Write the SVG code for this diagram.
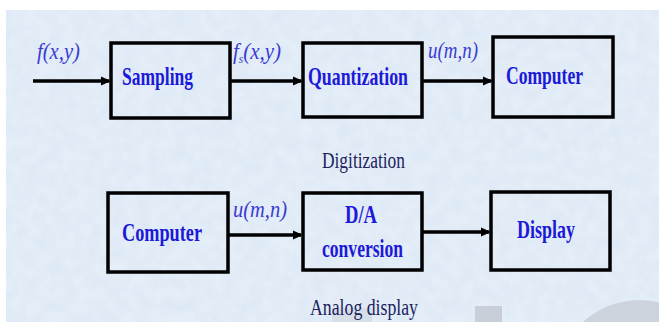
<svg xmlns="http://www.w3.org/2000/svg" width="659" height="322" viewBox="0 0 659 322">
<defs>
<marker id="ah" markerWidth="10" markerHeight="10" refX="8" refY="5" orient="auto" markerUnits="userSpaceOnUse"><path d="M0,0.5 L10,5 L0,9.5 Z" fill="#000"/></marker>
<filter id="tex" x="0" y="0" width="100%" height="100%"><feTurbulence type="fractalNoise" baseFrequency="0.08" numOctaves="2" seed="3"/><feColorMatrix type="matrix" values="0 0 0 0 0.86  0 0 0 0 0.91  0 0 0 0 0.97  0 0 0 -1.2 1.1"/></filter>
</defs>
<style>
.box{fill:none;stroke:#000;stroke-width:3.5}
.lbl{font-family:"Liberation Serif","Times New Roman",serif;font-weight:bold;font-size:25px;fill:#1c1ad8}
.sig{font-family:"Liberation Serif","Times New Roman",serif;font-style:italic;font-size:24px;fill:#3a3ad2}
.cap{font-family:"Liberation Serif","Times New Roman",serif;font-size:23px;fill:#20225e}
.con{stroke:#000;stroke-width:3.5;fill:none;marker-end:url(#ah)}
</style>
<rect x="0" y="0" width="659" height="322" fill="#fff"/>
<rect x="6" y="10" width="653" height="312" fill="#dce8f5"/>
<rect x="6" y="10" width="653" height="312" filter="url(#tex)" opacity="0.6"/>
<rect x="332" y="308" width="40" height="14" fill="#d6dee8"/>
<rect x="475" y="306" width="27" height="16" fill="#c9cfd8"/>
<circle cx="640" cy="385" r="85" fill="#cdd3dc"/>
<g id="connectors">
<line class="con" x1="33" y1="81" x2="109" y2="81"/>
<line class="con" x1="230" y1="81" x2="301" y2="81"/>
<line class="con" x1="422" y1="81" x2="491" y2="81"/>
<line class="con" x1="228" y1="235" x2="301" y2="235"/>
<line class="con" x1="422" y1="232" x2="489" y2="232"/>
<text class="sig" x="37" y="59" textLength="43" lengthAdjust="spacingAndGlyphs">f(x,y)</text>
<text class="sig" x="233" y="59" textLength="48" lengthAdjust="spacingAndGlyphs">f<tspan font-size="13" dy="4">s</tspan><tspan dy="-4">(x,y)</tspan></text>
<text class="sig" x="428" y="58" textLength="50" lengthAdjust="spacingAndGlyphs">u(m,n)</text>
<text class="sig" x="233" y="217" textLength="54" lengthAdjust="spacingAndGlyphs">u(m,n)</text>
</g>
<g id="sampling"><rect class="box" x="111" y="43" width="119" height="75"/><text class="lbl" x="122" y="85" textLength="71" lengthAdjust="spacingAndGlyphs">Sampling</text></g>
<g id="quantization"><rect class="box" x="303" y="43" width="119" height="74"/><text class="lbl" x="308" y="85" textLength="100" lengthAdjust="spacingAndGlyphs">Quantization</text></g>
<g id="computer1"><rect class="box" x="493" y="37" width="120" height="80"/><text class="lbl" x="506" y="84" textLength="77" lengthAdjust="spacingAndGlyphs">Computer</text></g>
<g id="computer2"><rect class="box" x="108" y="193" width="120" height="79"/><text class="lbl" x="122" y="241" textLength="80" lengthAdjust="spacingAndGlyphs">Computer</text></g>
<g id="da"><rect class="box" x="303" y="193" width="119" height="77"/><text class="lbl" x="345" y="223" textLength="32" lengthAdjust="spacingAndGlyphs">D/A</text><text class="lbl" x="322" y="257" textLength="81" lengthAdjust="spacingAndGlyphs">conversion</text></g>
<g id="display"><rect class="box" x="491" y="192" width="119" height="78"/><text class="lbl" x="517" y="238" textLength="58" lengthAdjust="spacingAndGlyphs">Display</text></g>
<text class="cap" x="322" y="168" textLength="83" lengthAdjust="spacingAndGlyphs">Digitization</text>
<text class="cap" x="310" y="315" textLength="108" lengthAdjust="spacingAndGlyphs">Analog display</text>
</svg>
